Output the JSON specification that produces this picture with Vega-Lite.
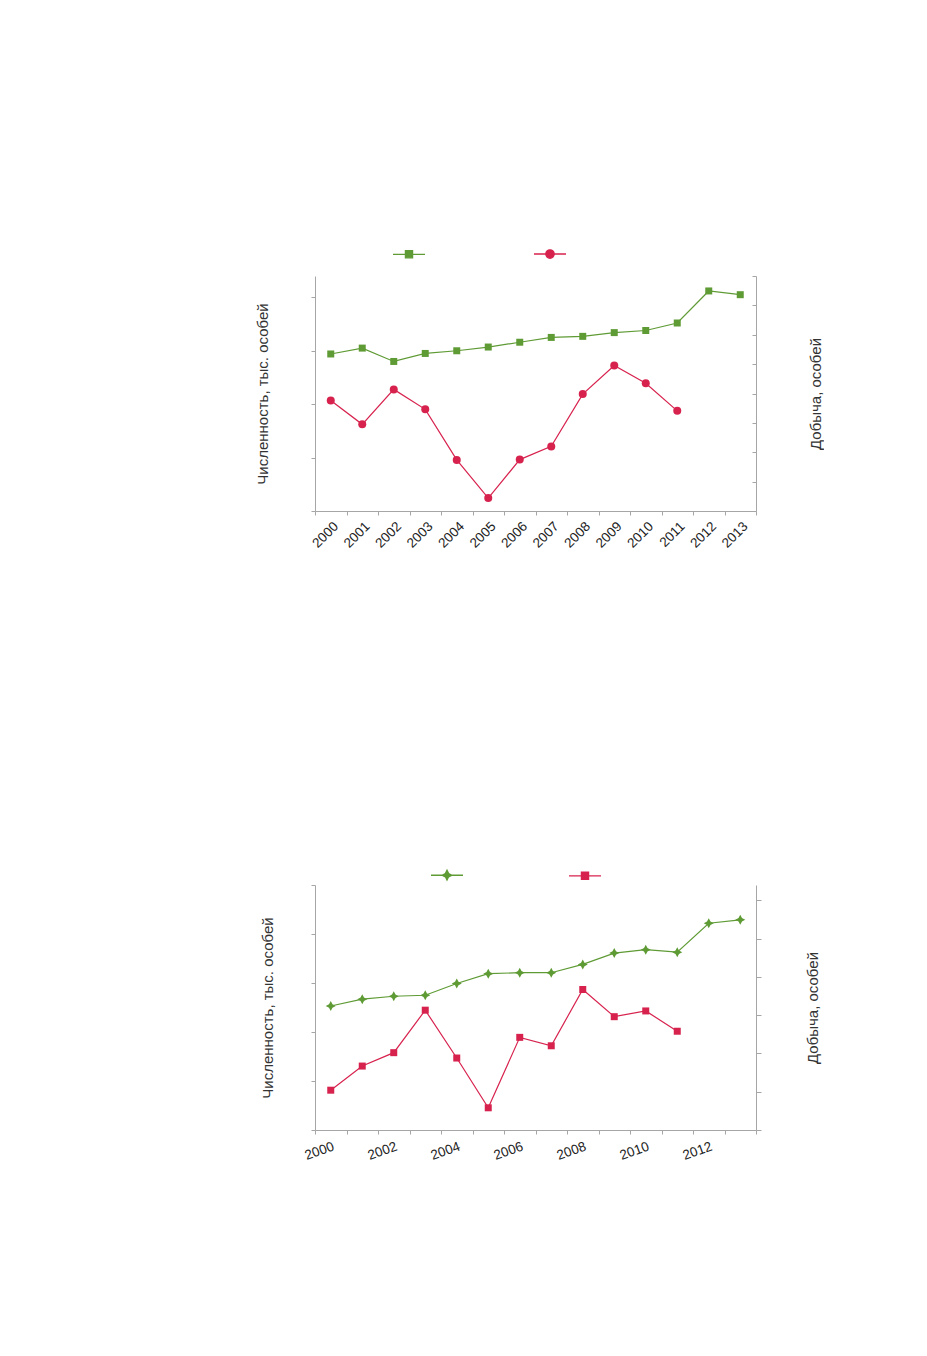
{
  "$schema": "https://vega.github.io/schema/vega-lite/v6.json",
  "padding": {"left": 255, "top": 237, "right": 0, "bottom": 0},
  "datasets": {
    "p1": [
      {"year": "2000", "series": "Численность", "value": 2.94},
      {"year": "2001", "series": "Численность", "value": 3.05},
      {"year": "2002", "series": "Численность", "value": 2.80},
      {"year": "2003", "series": "Численность", "value": 2.95},
      {"year": "2004", "series": "Численность", "value": 3.00},
      {"year": "2005", "series": "Численность", "value": 3.07},
      {"year": "2006", "series": "Численность", "value": 3.16},
      {"year": "2007", "series": "Численность", "value": 3.25},
      {"year": "2008", "series": "Численность", "value": 3.27},
      {"year": "2009", "series": "Численность", "value": 3.34},
      {"year": "2010", "series": "Численность", "value": 3.38},
      {"year": "2011", "series": "Численность", "value": 3.52},
      {"year": "2012", "series": "Численность", "value": 4.12},
      {"year": "2013", "series": "Численность", "value": 4.05},
      {"year": "2000", "series": "Добыча", "value": 3.76},
      {"year": "2001", "series": "Добыча", "value": 2.95},
      {"year": "2002", "series": "Добыча", "value": 4.14},
      {"year": "2003", "series": "Добыча", "value": 3.46},
      {"year": "2004", "series": "Добыча", "value": 1.74},
      {"year": "2005", "series": "Добыча", "value": 0.44},
      {"year": "2006", "series": "Добыча", "value": 1.75},
      {"year": "2007", "series": "Добыча", "value": 2.20},
      {"year": "2008", "series": "Добыча", "value": 3.98},
      {"year": "2009", "series": "Добыча", "value": 4.95},
      {"year": "2010", "series": "Добыча", "value": 4.35},
      {"year": "2011", "series": "Добыча", "value": 3.41}
    ],
    "p2": [
      {"year": "2000", "series": "Численность", "value": 2.53},
      {"year": "2001", "series": "Численность", "value": 2.67},
      {"year": "2002", "series": "Численность", "value": 2.73},
      {"year": "2003", "series": "Численность", "value": 2.75},
      {"year": "2004", "series": "Численность", "value": 2.99},
      {"year": "2005", "series": "Численность", "value": 3.19},
      {"year": "2006", "series": "Численность", "value": 3.21},
      {"year": "2007", "series": "Численность", "value": 3.21},
      {"year": "2008", "series": "Численность", "value": 3.38},
      {"year": "2009", "series": "Численность", "value": 3.61},
      {"year": "2010", "series": "Численность", "value": 3.68},
      {"year": "2011", "series": "Численность", "value": 3.63},
      {"year": "2012", "series": "Численность", "value": 4.22},
      {"year": "2013", "series": "Численность", "value": 4.29},
      {"year": "2000", "series": "Добыча", "value": 1.04},
      {"year": "2001", "series": "Добыча", "value": 1.67},
      {"year": "2002", "series": "Добыча", "value": 2.02},
      {"year": "2003", "series": "Добыча", "value": 3.13},
      {"year": "2004", "series": "Добыча", "value": 1.88},
      {"year": "2005", "series": "Добыча", "value": 0.58},
      {"year": "2006", "series": "Добыча", "value": 2.42},
      {"year": "2007", "series": "Добыча", "value": 2.20},
      {"year": "2008", "series": "Добыча", "value": 3.67},
      {"year": "2009", "series": "Добыча", "value": 2.96},
      {"year": "2010", "series": "Добыча", "value": 3.11},
      {"year": "2011", "series": "Добыча", "value": 2.58}
    ]
  },
  "vconcat": [
    {
      "data": {"name": "p1"},
      "width": 441,
      "height": 235,
      "encoding": {
        "x": {
          "field": "year",
          "type": "ordinal",
          "scale": {"type": "band", "paddingInner": 0, "paddingOuter": 0},
          "axis": {"title": null, "labelAngle": -45, "tickBand": "extent", "tickSize": 4, "labelPadding": 4}
        }
      },
      "layer": [
        {
          "transform": [{"filter": "datum.series === 'Численность'"}],
          "mark": {"type": "line", "strokeWidth": 1.2, "point": {"shape": "square", "size": 49, "filled": true, "opacity": 1}},
          "encoding": {
            "y": {
              "field": "value",
              "type": "quantitative",
              "scale": {"domain": [0, 4.4], "nice": false},
              "axis": {"title": "Численность, тыс. особей", "values": [0, 1, 2, 3, 4], "labels": false, "tickSize": 4, "titlePadding": 40}
            },
            "color": {
              "field": "series",
              "type": "nominal",
              "scale": {"domain": ["Численность", "Добыча"], "range": ["#5f9b35", "#d7224e"]},
              "legend": {
                "orient": "none", "legendX": 77, "legendY": -39, "direction": "horizontal", "title": null,
                "labelExpr": "''", "labelOffset": 0, "columnPadding": 103, "symbolSize": 1024, "padding": 0,
                "encode": {"symbols": {"update": {
                  "shape": {"signal": "datum.value === 'Численность' ? 'M-1,0H1M-0.22,-0.22H0.22V0.22H-0.22Z' : 'M-1,0H1M-0.26,0A0.26,0.26,0,1,0,0.26,0A0.26,0.26,0,1,0,-0.26,0Z'"},
                  "fill": {"signal": "datum.value === 'Численность' ? '#5f9b35' : '#d7224e'"},
                  "stroke": {"signal": "datum.value === 'Численность' ? '#5f9b35' : '#d7224e'"},
                  "strokeWidth": {"value": 1.4},
                  "size": {"value": 1024},
                  "opacity": {"value": 1}
                }}}
              }
            }
          }
        },
        {
          "transform": [{"filter": "datum.series === 'Добыча'"}],
          "mark": {"type": "line", "strokeWidth": 1.2, "point": {"shape": "circle", "size": 64, "filled": true, "opacity": 1}},
          "encoding": {
            "y": {
              "field": "value",
              "type": "quantitative",
              "scale": {"domain": [0, 8], "nice": false},
              "axis": {"orient": "right", "title": "Добыча, особей", "titleAngle": -90, "values": [0, 1, 2, 3, 4, 5, 6, 7, 8], "labels": false, "tickSize": -4, "titlePadding": 67}
            },
            "color": {
              "field": "series",
              "type": "nominal",
              "scale": {"domain": ["Численность", "Добыча"], "range": ["#5f9b35", "#d7224e"]}
            }
          }
        }
      ],
      "resolve": {"scale": {"y": "independent"}}
    },
    {
      "data": {"name": "p2"},
      "width": 441,
      "height": 245,
      "encoding": {
        "x": {
          "field": "year",
          "type": "ordinal",
          "scale": {"type": "band", "paddingInner": 0, "paddingOuter": 0},
          "axis": {"title": null, "labelAngle": -20, "tickBand": "extent", "tickSize": 4, "labelPadding": 5, "labelExpr": "toNumber(datum.value) % 2 === 0 ? datum.label : ''"}
        }
      },
      "layer": [
        {
          "transform": [{"filter": "datum.series === 'Численность'"}],
          "mark": {"type": "line", "strokeWidth": 1.2, "point": {"shape": "M0,-1L0.35,-0.35L1,0L0.35,0.35L0,1L-0.35,0.35L-1,0L-0.35,-0.35Z", "size": 100, "filled": true, "opacity": 1}},
          "encoding": {
            "y": {
              "field": "value",
              "type": "quantitative",
              "scale": {"domain": [0, 5], "nice": false},
              "axis": {"title": "Численность, тыс. особей", "values": [0, 1, 2, 3, 4, 5], "labels": false, "tickSize": 4, "titlePadding": 35}
            },
            "color": {
              "field": "series",
              "type": "nominal",
              "scale": {"domain": ["Численность", "Добыча"], "range": ["#5f9b35", "#d7224e"]},
              "legend": {
                "orient": "none", "legendX": 115, "legendY": -27, "direction": "horizontal", "title": null,
                "labelExpr": "''", "labelOffset": 0, "columnPadding": 100, "symbolSize": 1024, "padding": 0,
                "encode": {"symbols": {"update": {
                  "shape": {"signal": "datum.value === 'Численность' ? 'M-1,0H1M0,-0.3L0.1,-0.1L0.3,0L0.1,0.1L0,0.3L-0.1,0.1L-0.3,0L-0.1,-0.1Z' : 'M-1,0H1M-0.22,-0.22H0.22V0.22H-0.22Z'"},
                  "fill": {"signal": "datum.value === 'Численность' ? '#5f9b35' : '#d7224e'"},
                  "stroke": {"signal": "datum.value === 'Численность' ? '#5f9b35' : '#d7224e'"},
                  "strokeWidth": {"value": 1.4},
                  "size": {"value": 1024},
                  "opacity": {"value": 1}
                }}}
              }
            }
          }
        },
        {
          "transform": [{"filter": "datum.series === 'Добыча'"}],
          "mark": {"type": "line", "strokeWidth": 1.2, "point": {"shape": "square", "size": 49, "filled": true, "opacity": 1}},
          "encoding": {
            "y": {
              "field": "value",
              "type": "quantitative",
              "scale": {"domain": [0, 6.4], "nice": false},
              "axis": {"orient": "right", "title": "Добыча, особей", "titleAngle": -90, "values": [0, 1, 2, 3, 4, 5, 6], "labels": false, "tickSize": 5, "titlePadding": 59}
            },
            "color": {
              "field": "series",
              "type": "nominal",
              "scale": {"domain": ["Численность", "Добыча"], "range": ["#5f9b35", "#d7224e"]}
            }
          }
        }
      ],
      "resolve": {"scale": {"y": "independent"}}
    }
  ],
  "spacing": 308,
  "resolve": {"scale": {"color": "independent"}, "legend": {"color": "independent"}},
  "config": {
    "font": "Liberation Sans",
    "view": {"stroke": null},
    "axis": {
      "grid": false,
      "domainColor": "#a6a6a6",
      "tickColor": "#a6a6a6",
      "domainWidth": 1,
      "tickWidth": 1,
      "labelFont": "Liberation Sans",
      "labelFontSize": 13.5,
      "labelColor": "#222222",
      "titleFont": "Liberation Sans",
      "titleFontSize": 15,
      "titleFontWeight": "normal",
      "titleColor": "#333333"
    }
  }
}
